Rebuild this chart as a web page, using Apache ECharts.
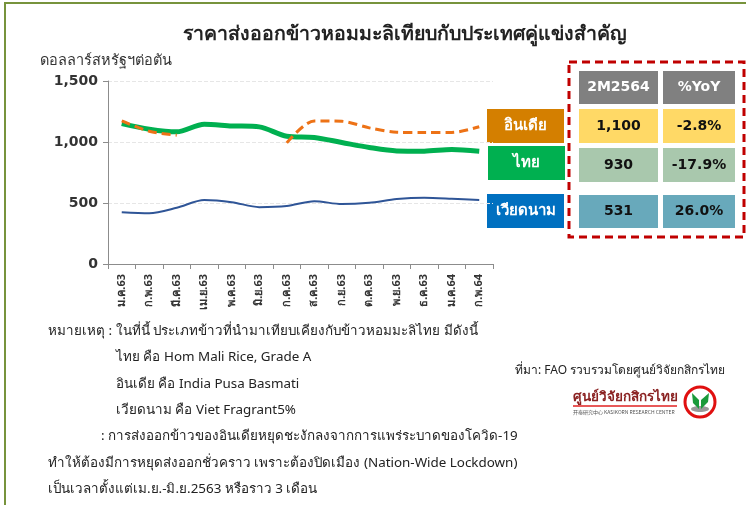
<!DOCTYPE html>
<html>
<head>
<meta charset="utf-8">
<script src="https://cdn.jsdelivr.net/npm/echarts@6/dist/echarts.min.js"></script>
<style>
  html, body { margin: 0; padding: 0; background: #fff; }
  #main { width: 746px; height: 505px; }
</style>
</head>
<body>
<div id="main"></div>
<script>
// เดือน ม.ค.63 - ก.พ.64
const categories = ['ม.ค.63', 'ก.พ.63', 'มี.ค.63', 'เม.ย.63', 'พ.ค.63', 'มิ.ย.63', 'ก.ค.63',
  'ส.ค.63', 'ก.ย.63', 'ต.ค.63', 'พ.ย.63', 'ธ.ค.63', 'ม.ค.64', 'ก.พ.64']
const thaiValues = [1151, 1105, 1083, 1146, 1132, 1124, 1047, 1037, 996, 955, 927, 925, 938, 925]
// อินเดียหยุดส่งออก เม.ย.-มิ.ย.63
const indiaValues = [1173, 1088, 1056, null, null, null, 993, 1173, 1170, 1116, 1080, 1078, 1078, 1125]
const vietValues = [425, 417, 461, 524, 507, 466, 475, 515, 491, 502, 532, 543, 535, 524]
const yTicks = [0, 500, 1000, 1500]

const seriesNames = ['อินเดีย', 'ไทย', 'เวียดนาม']
const tableHead = ['2M2564', '%YoY']
const tablePrice = ['1,100', '930', '531']
const tableYoY = ['-2.8%', '-17.9%', '26.0%']

const noteLines = [
  'หมายเหตุ : ในที่นี้ ประเภทข้าวที่นำมาเทียบเคียงกับข้าวหอมมะลิไทย มีดังนี้',
  'ไทย คือ Hom Mali Rice, Grade A',
  'อินเดีย คือ India Pusa Basmati',
  'เวียดนาม คือ Viet Fragrant5%',
  ': การส่งออกข้าวของอินเดียหยุดชะงักลงจากการแพร่ระบาดของโควิด-19',
  'ทำให้ต้องมีการหยุดส่งออกชั่วคราว เพราะต้องปิดเมือง (Nation-Wide Lockdown)',
  'เป็นเวลาตั้งแต่เม.ย.-มิ.ย.2563 หรือราว 3 เดือน'
]

const myChart = echarts.init(document.getElementById('main'))
const thaiFont = 'Tahoma, "Noto Sans", sans-serif'
const numFont = '"DejaVu Sans", sans-serif'

// ป้ายชื่อซีรีส์
const legendColors = ['#d47f00', '#00b050', '#0070c0']
const legendBoxes = [[487, 109, 77, 34], [488, 146, 77, 34], [487, 194, 77, 34]]
const graphics = []
seriesNames.forEach((name, i) => {
  const b = legendBoxes[i]
  graphics.push({
    type: 'rect', shape: { x: b[0], y: b[1], width: b[2], height: b[3] },
    style: { fill: legendColors[i] }
  })
  graphics.push({
    type: 'text', x: b[0] + b[2] / 2, y: b[1] + b[3] / 2,
    style: { text: name, fill: '#fff', font: 'bold 15px ' + thaiFont, align: 'center', verticalAlign: 'middle' }
  })
})

// ตาราง 2M2564
const cellRows = [
  { y: 71, h: 33, fill: '#808080', color: '#fff', vals: tableHead },
  { y: 109, h: 34, fill: '#ffd966', color: '#111', vals: [tablePrice[0], tableYoY[0]] },
  { y: 148, h: 34, fill: '#a9c8ad', color: '#111', vals: [tablePrice[1], tableYoY[1]] },
  { y: 195, h: 33, fill: '#68a9bb', color: '#111', vals: [tablePrice[2], tableYoY[2]] }
]
cellRows.forEach(r => {
  const cols = [[579, 79], [663, 72]]
  cols.forEach((c, j) => {
    graphics.push({
      type: 'rect', shape: { x: c[0], y: r.y, width: c[1], height: r.h },
      style: { fill: r.fill }
    })
    graphics.push({
      type: 'text', x: c[0] + c[1] / 2, y: r.y + r.h / 2,
      style: { text: r.vals[j], fill: r.color, font: 'bold 14px "DejaVu Sans", sans-serif', align: 'center', verticalAlign: 'middle' }
    })
  })
})
graphics.push({
  type: 'rect', shape: { x: 569, y: 62, width: 175, height: 175 },
  style: { fill: 'none', stroke: '#c00000', lineWidth: 3, lineDash: [8, 5] }
})

// หมายเหตุ
const noteX = [48, 116, 116, 116, 101, 48, 48]
noteLines.forEach((t, i) => {
  graphics.push({
    type: 'text', x: noteX[i], y: 331 + i * 26.4,
    style: { text: t, fill: '#222', font: '13.4px ' + thaiFont, verticalAlign: 'middle' }
  })
})
graphics.push({
  type: 'text', x: 515, y: 371,
  style: { text: 'ที่มา: FAO รวบรวมโดยศูนย์วิจัยกสิกรไทย', fill: '#222', font: '12px ' + thaiFont, verticalAlign: 'middle' }
})

// โลโก้
graphics.push(
  { type: 'text', x: 573, y: 397, style: { text: 'ศูนย์วิจัยกสิกรไทย', fill: '#8b2323', font: 'bold 13.5px ' + thaiFont, verticalAlign: 'middle' } },
  { type: 'line', shape: { x1: 573, y1: 406, x2: 677, y2: 406 }, style: { stroke: '#e02020', lineWidth: 1.5 } },
  { type: 'text', x: 573, y: 412, style: { text: '开泰研究中心 KASIKORN RESEARCH CENTER', fill: '#555', font: '5px "Noto Sans CJK SC", sans-serif', verticalAlign: 'middle' } },
  { type: 'circle', shape: { cx: 700, cy: 402, r: 15 }, style: { fill: '#fff', stroke: '#e01010', lineWidth: 3 } },
  { type: 'ellipse', shape: { cx: 700, cy: 409, rx: 9, ry: 3 }, style: { fill: '#999' } },
  { type: 'polygon', shape: { points: [[699, 409], [693, 403], [692, 393], [699, 400]] }, style: { fill: '#1a9a3a' } },
  { type: 'polygon', shape: { points: [[701, 409], [701, 400], [709, 393], [708, 402]] }, style: { fill: '#1a9a3a' } }
)

// กรอบรอบภาพ
graphics.push({
  type: 'rect', shape: { x: 5, y: 3, width: 760, height: 520 },
  style: { fill: 'none', stroke: '#77933c', lineWidth: 2 }
})

const option = {
  animation: false,
  title: {
    text: 'ราคาส่งออกข้าวหอมมะลิเทียบกับประเทศคู่แข่งสำคัญ',
    left: 400, top: 19, textAlign: 'center',
    textStyle: { fontSize: 19.5, fontWeight: 'bold', color: '#222', fontFamily: thaiFont }
  },
  grid: { left: 108, top: 81, width: 385, height: 183 },
  xAxis: {
    type: 'category',
    data: categories,
    boundaryGap: true,
    axisLine: { lineStyle: { color: '#8c8c8c' } },
    axisTick: { show: true, length: 5, lineStyle: { color: '#8c8c8c' } },
    axisLabel: { interval: 0, rotate: 90, fontSize: 11, fontWeight: 'bold', color: '#333', margin: 10, fontFamily: thaiFont }
  },
  yAxis: {
    type: 'value',
    min: yTicks[0], max: yTicks[yTicks.length - 1], interval: 500,
    name: 'ดอลลาร์สหรัฐฯต่อตัน',
    nameLocation: 'end',
    nameGap: 13,
    nameTextStyle: { align: 'left', padding: [0, 0, 0, -68], fontSize: 14.5, color: '#333', fontFamily: thaiFont },
    axisLine: { show: true, lineStyle: { color: '#8c8c8c' } },
    axisTick: { show: true, length: 5, lineStyle: { color: '#8c8c8c' } },
    axisLabel: {
      fontSize: 14, fontWeight: 'bold', color: '#333', margin: 10, fontFamily: numFont,
      formatter: v => v.toLocaleString('en-US')
    },
    splitLine: { lineStyle: { color: '#e6e6e6', type: 'dashed' } }
  },
  series: [
    {
      name: seriesNames[2], type: 'line', data: vietValues, smooth: 0.3, symbol: 'none',
      lineStyle: { color: '#2f5597', width: 2 }, z: 2
    },
    {
      name: seriesNames[1], type: 'line', data: thaiValues, smooth: 0.3, symbol: 'none',
      lineStyle: { color: '#00b050', width: 5 }, z: 3
    },
    {
      name: seriesNames[0], type: 'line', data: indiaValues, smooth: 0.3, symbol: 'none',
      connectNulls: false,
      lineStyle: { color: '#ed7216', width: 3, type: [9, 5] }, z: 4
    }
  ],
  graphic: graphics
}
myChart.setOption(option)
</script>
</body>
</html>
